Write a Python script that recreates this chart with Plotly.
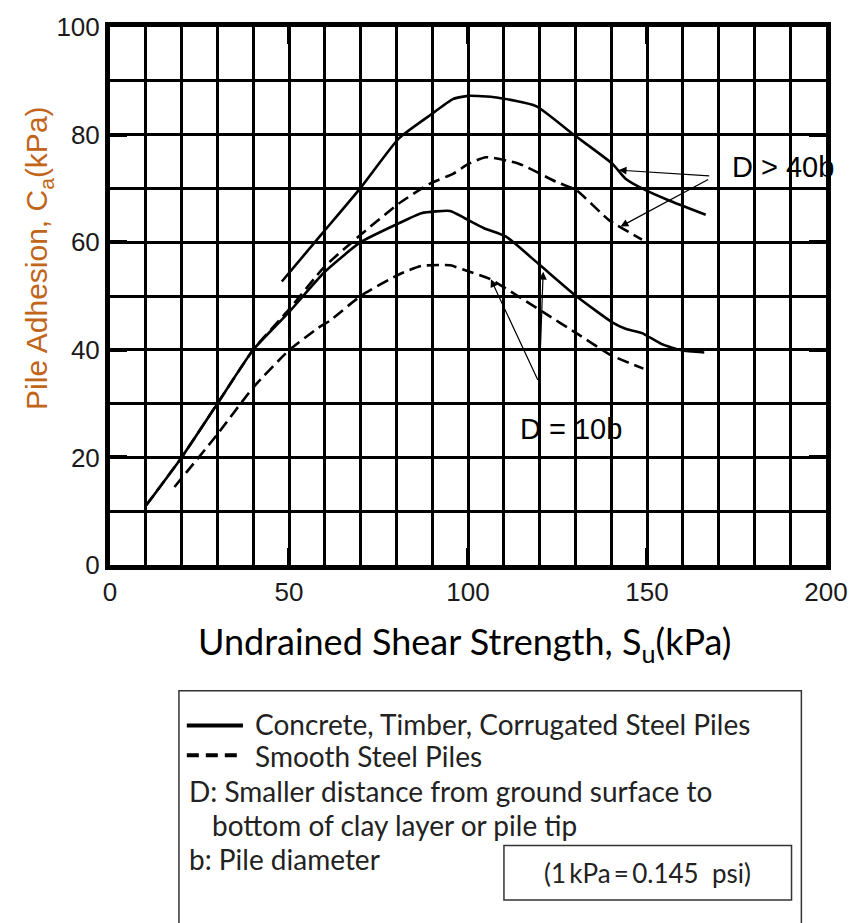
import plotly.graph_objects as go

# ---- data ----
su_conc_40 = [48, 59, 70, 80.7, 89.4, 95.8, 100, 108, 119, 129.3, 140.3, 144, 148.6, 156, 166.4]
ca_conc_40 = [52.7, 61.4, 70.1, 79.3, 83.6, 86.6, 87.2, 86.9, 85.3, 80.1, 74.6, 71.8, 70.0, 67.8, 65.1]

su_steel_40 = [10, 20, 30, 40, 50, 60, 70.6, 80.7, 89.4, 95.8, 100, 105, 114.2, 124.7, 130.2, 139.4, 148.6]
ca_steel_40 = [11, 20, 30, 40, 47.5, 55.5, 61.7, 67.2, 70.9, 72.7, 74.5, 75.8, 74.6, 71.2, 69.7, 64.1, 60.5]

su_conc_10 = [10, 20, 30, 40, 50, 60, 70, 80, 87, 95, 99, 104.5, 110.5, 120, 130.2, 140.3, 144, 148.6, 154, 159.6, 166]
ca_conc_10 = [11, 20, 30, 40, 47, 54.5, 60, 63.3, 65.4, 65.8, 64.5, 62.6, 61.1, 55.8, 50.0, 45.1, 43.9, 43.1, 41.1, 39.9, 39.5]

su_steel_10 = [18, 30, 40, 50, 58, 61.4, 70, 80.7, 87, 95, 100, 106, 121, 130.5, 140, 149]
ca_steel_10 = [14.5, 24.3, 33, 39.9, 44, 45.4, 50, 54, 55.6, 55.7, 54.6, 53.2, 47, 43, 39, 36.5]

x_ticks = [0, 50, 100, 150, 200]
y_ticks = [0, 20, 40, 60, 80, 100]

legend_lines = [
    "Concrete, Timber, Corrugated Steel Piles",
    "Smooth Steel Piles",
    "D: Smaller distance from ground surface to",
    "bottom of clay layer or pile tip",
    "b: Pile diameter",
]
conversion_note = "(1\u2009kPa\u2009=\u20090.145  psi)"

# ---- layout geometry (pixels) ----
W, H = 860, 923
L, R, T, B = 110, 837, 22, 565
PW, PH = R - L, B - T


def px(x):
    return (x - L) / PW


def py(y):
    return (B - y) / PH


CAL = "Lato, 'Open Sans', sans-serif"
ARI = "'Liberation Sans', Arial, sans-serif"

fig = go.Figure()
solid = dict(color="black", width=2.6)
dashed = dict(color="black", width=2.6, dash="12px,6px")
fig.add_trace(go.Scatter(x=su_conc_40, y=ca_conc_40, mode="lines", line=solid, line_shape="spline", line_smoothing=0.5))
fig.add_trace(go.Scatter(x=su_steel_40, y=ca_steel_40, mode="lines", line=dashed, line_shape="spline", line_smoothing=0.5))
fig.add_trace(go.Scatter(x=su_conc_10, y=ca_conc_10, mode="lines", line=solid, line_shape="spline", line_smoothing=0.5))
fig.add_trace(go.Scatter(x=su_steel_10, y=ca_steel_10, mode="lines", line=dashed, line_shape="spline", line_smoothing=0.5))

axis_common = dict(
    showline=True, linecolor="black", linewidth=5, mirror="ticks",
    showgrid=True, gridcolor="black", gridwidth=3,
    ticks="inside", ticklen=17, tickwidth=4, tickcolor="black",
    tickfont=dict(family=ARI, size=26, color="#1a1a1a"),
    zeroline=False, fixedrange=True,
)

fig.update_xaxes(range=[0, 200], tickvals=x_ticks, ticktext=[str(v) for v in x_ticks],
                 minor=dict(dtick=10, tick0=0, showgrid=True, gridcolor="black", gridwidth=3, ticks=""),
                 **axis_common)
fig.update_yaxes(range=[0, 100], tickvals=y_ticks, ticktext=[str(v) for v in y_ticks],
                 minor=dict(dtick=10, tick0=0, showgrid=True, gridcolor="black", gridwidth=3, ticks=""),
                 **axis_common)

ann = []
# axis titles
ann.append(dict(text="Undrained Shear Strength, S<sub>u</sub>(kPa)", x=px(470), y=py(644),
                xref="paper", yref="paper", showarrow=False, xanchor="center", yanchor="middle",
                font=dict(family=CAL, size=36, color="black")))
ann.append(dict(text="Pile Adhesion, C<sub>a</sub>(kPa)", x=px(38), y=py(255),
                xref="paper", yref="paper", showarrow=False, xanchor="center", yanchor="middle",
                textangle=-90, font=dict(family=ARI, size=30, color="#C0651A")))
# curve labels
ann.append(dict(text="D > 40b", x=px(793), y=py(163), xref="paper", yref="paper", showarrow=False,
                xanchor="center", yanchor="middle",
                font=dict(family=ARI, size=29, color="black")))
ann.append(dict(text="D = 10b", x=px(578), y=py(428), xref="paper", yref="paper", showarrow=False,
                xanchor="center", yanchor="middle",
                font=dict(family=ARI, size=29, color="black")))
# arrows
for (hx, hy, tx, ty) in [(142.1, 73.4, 167.8, 72.3), (142.6, 62.9, 167.5, 71.8),
                         (106.4, 53.1, 119.7, 34.1), (121.0, 54.5, 119.9, 34.1)]:
    ann.append(dict(x=hx, y=hy, ax=tx, ay=ty, xref="x", yref="y", axref="x", ayref="y",
                    text="", showarrow=True, arrowhead=2, arrowsize=1.3, arrowwidth=1.2,
                    arrowcolor="black"))

# legend box texts
LF = dict(family=CAL, size=28, color="#222")
ann.append(dict(text=legend_lines[0], x=px(255), y=py(725), xref="paper", yref="paper", showarrow=False,
                xanchor="left", yanchor="middle", font=LF))
ann.append(dict(text=legend_lines[1], x=px(255), y=py(758), xref="paper", yref="paper", showarrow=False,
                xanchor="left", yanchor="middle", font=LF))
ann.append(dict(text=legend_lines[2], x=px(188), y=py(793), xref="paper", yref="paper", showarrow=False,
                xanchor="left", yanchor="middle", font=LF))
ann.append(dict(text=legend_lines[3], x=px(212), y=py(827), xref="paper", yref="paper", showarrow=False,
                xanchor="left", yanchor="middle", font=LF))
ann.append(dict(text=legend_lines[4], x=px(188), y=py(862), xref="paper", yref="paper", showarrow=False,
                xanchor="left", yanchor="middle", font=LF))
ann.append(dict(text=conversion_note, x=px(656), y=py(876), xref="paper", yref="paper", showarrow=False,
                xanchor="center", yanchor="middle", font=dict(family=CAL, size=26, color="#222")))

shapes = [
    # outer legend box (bottom runs off the page)
    dict(type="rect", xref="paper", yref="paper", x0=px(180), x1=px(812), y0=py(940), y1=py(692),
         line=dict(color="#333", width=1.5)),
    # conversion box
    dict(type="rect", xref="paper", yref="paper", x0=px(510), x1=px(802), y0=py(903), y1=py(848),
         line=dict(color="#333", width=1.5)),
    # legend samples
    dict(type="line", xref="paper", yref="paper", x0=px(188), x1=px(245), y0=py(727), y1=py(727),
         line=dict(color="black", width=4)),
    dict(type="line", xref="paper", yref="paper", x0=px(188), x1=px(245), y0=py(757), y1=py(757),
         line=dict(color="black", width=4, dash="12px,7px")),
]

fig.update_layout(
    width=W, height=H, margin=dict(l=L, r=W - R, t=T, b=H - B),
    plot_bgcolor="white", paper_bgcolor="white", showlegend=False,
    annotations=ann, shapes=shapes,
)

fig.write_html("out.html")
